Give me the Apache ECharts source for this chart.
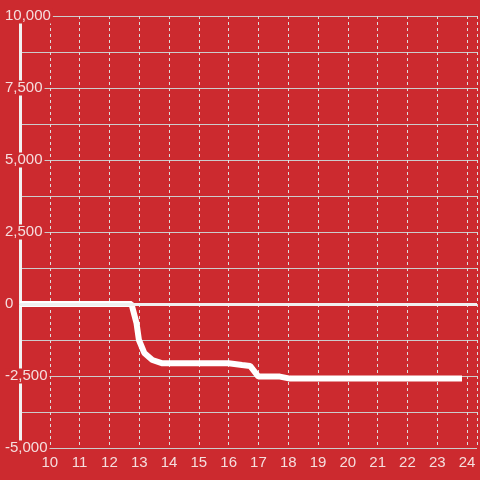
<!DOCTYPE html>
<html>
<head>
<meta charset="utf-8">
<script src="https://cdn.jsdelivr.net/npm/echarts@6/dist/echarts.min.js"></script>
<style>
  html, body { margin: 0; padding: 0; background: #cc2a2f; }
  #chart { width: 480px; height: 480px; }
</style>
</head>
<body>
<div id="chart"></div>
<script>
// hour of day vs. balance
const hours = [9, 12.74, 12.91, 12.99, 13.17, 13.44, 13.78, 14, 15, 16, 16.45, 16.72, 17.0, 17.5, 17.72, 18.06, 19, 20, 21, 22, 23, 23.83]
const values = [0, 0, -670, -1250, -1700, -1944, -2060, -2060, -2060, -2060, -2120, -2150, -2520, -2520, -2520, -2590, -2590, -2590, -2590, -2590, -2590, -2590]

const bg = '#cc2a2f'
const textColor = '#f5dede'

const chart = echarts.init(document.getElementById('chart'))
chart.setOption({
  backgroundColor: bg,
  animation: false,
  grid: { left: 20, right: 0, top: 16, bottom: 32 },
  xAxis: {
    type: 'value',
    min: 9,
    max: 24.333,
    interval: 1,
    axisLine: { show: true, lineStyle: { color: '#cccccc', width: 1 } },
    axisTick: { show: false },
    axisLabel: {
      color: textColor,
      fontSize: 15,
      fontFamily: 'Liberation Sans',
      margin: 7,
      formatter: v => (v >= 10 && Number.isInteger(v)) ? String(v) : ''
    },
    splitLine: { show: true, lineStyle: { color: '#dddddd', type: [3, 3], width: 1 } }
  },
  yAxis: {
    type: 'value',
    min: -5000,
    max: 10000,
    interval: 1250,
    axisLine: { show: true, lineStyle: { color: '#f2f2f2', width: 3 } },
    axisTick: { show: false },
    axisLabel: {
      color: textColor,
      fontSize: 15,
      fontFamily: 'Liberation Sans',
      align: 'left',
      margin: 15,
      backgroundColor: bg,
      padding: [0, 2, 0, 0],
      formatter: v => v % 2500 === 0 ? v.toLocaleString('en-US') : ''
    },
    splitLine: { show: true, lineStyle: { color: '#cccccc', width: 1 } }
  },
  series: [
    {
      type: 'line',
      data: hours.map((h, i) => [h, values[i]]),
      showSymbol: false,
      lineStyle: { color: '#ffffff', width: 6 },
      z: 3,
      markLine: {
        silent: true,
        symbol: 'none',
        label: { show: false },
        lineStyle: { color: '#f0f0f0', width: 3, type: 'solid' },
        data: [{ yAxis: 0 }]
      }
    }
  ]
})
</script>
</body>
</html>
